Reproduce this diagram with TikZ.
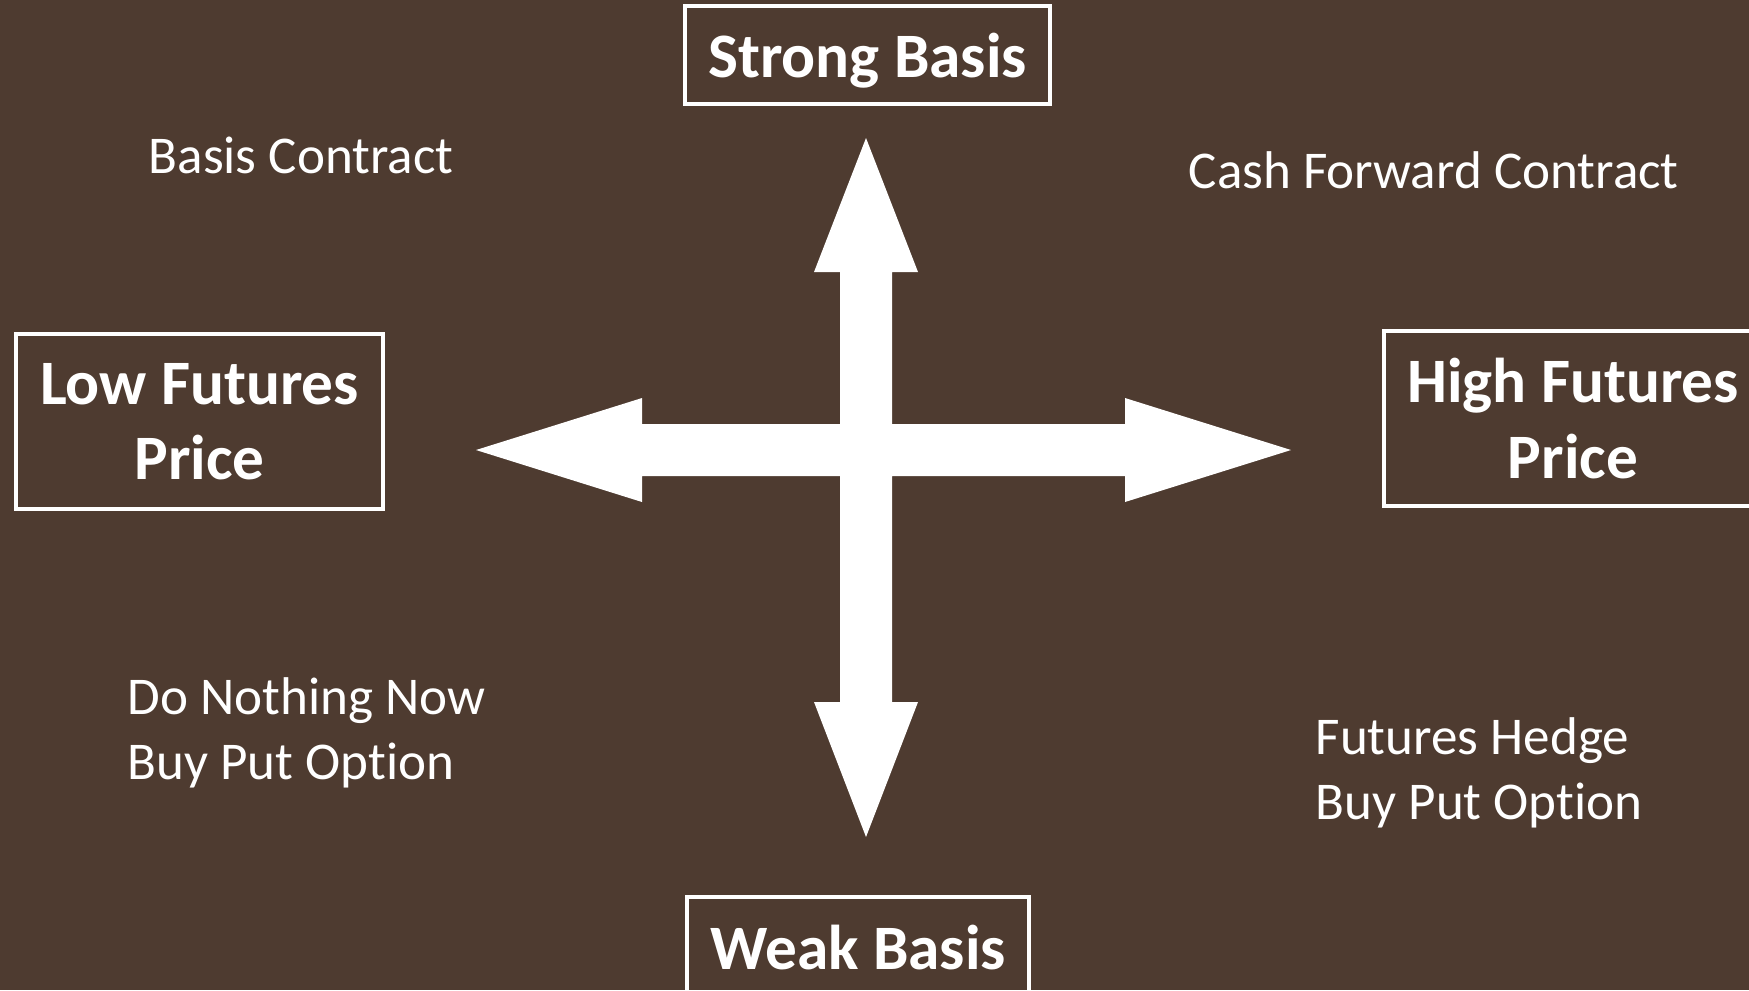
\documentclass[tikz,border=0pt]{standalone}
\usepackage{fontspec}
\setmainfont[Ligatures=NoCommon]{Carlito}
\usepackage{xcolor}

\definecolor{bgbrown}{RGB}{78,59,48}

\tikzset{
    basisbox/.style={draw=white, line width=1.3pt, text=white, font=\bfseries\fontsize{18}{21.4}\selectfont, align=center, inner sep=0pt},
    plaintext/.style={text=white, font=\fontsize{15.1}{18.5}\selectfont, align=left, inner sep=0pt, anchor=west}
}

\begin{document}
\begin{tikzpicture}[x=0.01cm, y=-0.01cm]

        % Background
        \useasboundingbox (0,0) rectangle (1749,990);
        \fill[bgbrown] (0,0) rectangle (1749,990);
        \clip (0,0) rectangle (1749,990);

        % Four-way arrow
        \coordinate (centre) at (866,450);
        \fill[white] (866,138) -- (918,272) -- (892,272) -- (892,424) -- (1125,424) -- (1125,398)
            -- (1291,450) -- (1125,502) -- (1125,476) -- (892,476) -- (892,702) -- (918,702)
            -- (866,837) -- (814,702) -- (840,702) -- (840,476) -- (642,476) -- (642,502)
            -- (476,450) -- (642,398) -- (642,424) -- (840,424) -- (840,272) -- (814,272) -- cycle;

        % Basis and futures boxes
        \node[basisbox, text depth=0pt, minimum width=3.65cm, minimum height=0.98cm] (strong) at (867.5,55) {Strong Basis};
        \node[basisbox, minimum width=3.42cm, minimum height=1.0cm] (weak) at (858,947) {Weak Basis};
        \node[basisbox, minimum width=3.67cm, minimum height=1.75cm] (low) at (199.5,421.5) {Low Futures\\Price};
        \node[basisbox, minimum width=3.78cm, minimum height=1.75cm] (high) at (1573,418.5) {High Futures\\Price};

        % Quadrant labels
        \node[plaintext] (basiscontract) at (148,155) {Basis Contract};
        \node[plaintext] (cashforward) at (1188,170) {Cash Forward Contract};
        \node[plaintext] (donothing) at (127,732.5) {Do Nothing Now\\Buy Put Option};
        \node[plaintext] (futureshedge) at (1315,772.5) {Futures Hedge\\Buy Put Option};

    \end{tikzpicture}
\end{document}
